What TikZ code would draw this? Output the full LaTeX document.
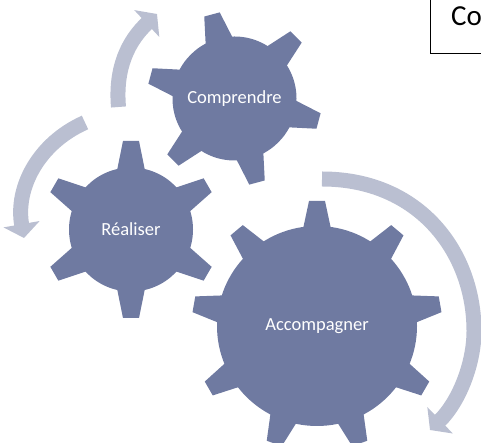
\documentclass[tikz,border=0pt]{standalone}
\usepackage{fontspec}
\setmainfont{Carlito}
\usetikzlibrary{arrows.meta}
\definecolor{gearblue}{RGB}{111,122,161}
\definecolor{arrowblue}{RGB}{186,191,209}
\tikzset{
  gearbody/.style={circle, fill=gearblue, text=white, inner sep=0pt, font=\fontsize{18.5}{22}\selectfont},
  cyclearrow/.style={draw=arrowblue, line width=15pt, -{Stealth[length=14pt, width=36pt, inset=0pt]}}
}
% #1 gear node, #2 angles of the teeth, #3 radius of the body, #4 radius at the tip
\newcommand{\gearteeth}[4]{
  \foreach \a in {#2}
    \fill[gearblue, shift={(#1.center)}, rotate=\a] (#3-3,-14) -- (#4,-8) -- (#4,8) -- (#3-3,14) -- cycle;
}
\begin{document}
\begin{tikzpicture}[x=1pt, y=1pt]
\useasboundingbox (0,0) rectangle (481,443);

\node[gearbody, minimum size=124pt] (comp) at (234.5,344.5) {Comprendre};
\node[gearbody, minimum size=124pt] (real) at (131,213.5) {R\'ealiser};
\node[gearbody, minimum size=200pt] (acc) at (317,117) {Accompagner};
\gearteeth{comp}{105,45,-15,-75,-135,165}{62}{87}
\gearteeth{real}{90,30,-30,-90,-150,150}{62}{88.5}
\gearteeth{acc}{90,50,10,-30,-70,-110,-150,170,130}{100}{125}

% arrows
\coordinate (a1s) at (118.5,336);
\coordinate (a1e) at (157,429);
\coordinate (a2s) at (85,320.5);
\coordinate (a2e) at (24,205);
\coordinate (a3s) at (322,264);
\coordinate (a3e) at (430,13);
\draw[cyclearrow] (a1s) to[out=95, in=223] (a1e);
\draw[cyclearrow] (a2s) to[out=204, in=100] (a2e);
\draw[cyclearrow] (a3s) .. controls (420,264) and (474,190) .. (474,112) .. controls (474,78) and (458,40) .. (a3e);

% box
\coordinate (b1) at (430,443);
\coordinate (b2) at (430,389);
\coordinate (b3) at (481,389);
\draw[line width=1pt] (b1) -- (b2) -- (b3);
\node[anchor=base west, inner sep=0pt, font=\fontsize{29}{34}\selectfont] (boxtext) at (451,417) {Co};
\end{tikzpicture}
\end{document}
